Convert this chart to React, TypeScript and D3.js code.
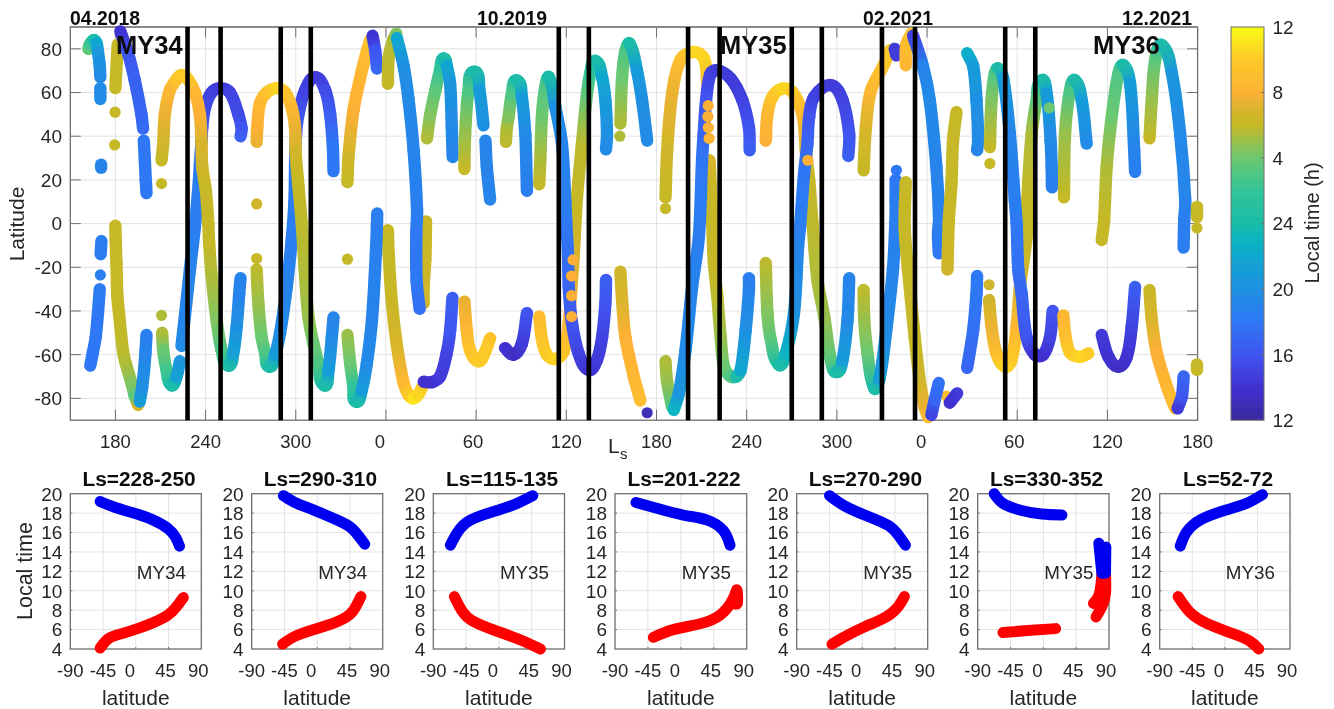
import React from "react";
import * as d3 from "d3";

// ---------- main panel data: [Ls (continuous over three Mars years), latitude, local time h]
const northBlue1 = [[162,80,3.5],[163,82,2.5],[165.5,84,0],[167.5,82.5,22],[168.5,78,20.5],[169.5,73,20],[170,67,19.5]];
const northBlue1b = [[170,62,19.5],[170,57,19.5]];
const dotBlue1 = [[170.5,27,19],[170.5,25.5,19]];
const southBlue1 = [[170.7,-8,18.5],[170.2,-14,18.5]];
const dotBlue2 = [[170,-23.5,18.5]];
const southBlue1b = [[169.6,-30,18.5],[168.4,-41,18],[166.9,-52,18],[165,-59,18],[163.3,-65,18]];
const oliveA = [[181.5,82,6],[181,75,6],[180.3,66,6],[180,62,6]];
const dotOliveA = [[179.8,51,6]];
const dotOliveB = [[179.5,36,6]];
const oliveB = [[180,-1,6],[180.2,-7.5,6],[180.7,-18,6],[181.3,-33,6],[182.4,-41,6],[185.1,-58.6,5.8],[186.9,-64,5.5],[190.7,-73,4.5],[192.9,-79,3.5],[195.1,-83,7]];
const blueA = [[196.2,-81.5,21],[197.8,-75,20],[199.1,-67,19.5],[200,-59,19],[200.7,-51,18.5]];
const indigoA = [[183.3,88,14],[188.4,78,16],[192.9,65.6,16.7],[197.3,50,17],[198.4,43.5,17.3]];
const indigoAb = [[198.9,38,18],[199.6,29,18],[200.2,20,18],[200.7,14,18]];
const arcOrange1 = [[210.7,29,6],[211.8,36.6,6.5],[212.9,50,7.5],[216.2,61,8.5],[220.7,66,9.5],[224,68,10],[228.4,66,10],[232.9,60,8.5],[236.2,50,8],[237.3,36.6,7],[237.8,26,6.5],[240.2,15,6],[241.8,0,6],[242.4,-9,6],[244,-24,5.5],[247.3,-44,4.5],[250.7,-58,3],[255.1,-65,0],[258.4,-59.4,21.5],[260.7,-47,20],[262.4,-32,19],[263.3,-25,19]];
const dotOrange1 = [[210.7,18.3,6]];
const dotGreen1 = [[210.7,-42,5.5]];
const arcGreen1 = [[211.1,-50,5.5],[211.8,-58,4],[214,-67,2.5],[217.3,-74,0],[220.7,-70,21.5],[222.9,-63,20.5]];
const arcBlue1 = [[224,-56,19.5],[226.2,-42.6,19],[229.6,-21,19],[232.9,-1.4,18.5],[235.6,20,18.5],[236.2,27,18],[237.3,38,17],[237.8,44,16.5],[239.6,53,15.5],[244,60,15],[249.6,62,14.5],[256.2,60,15],[261.8,50,15.5],[264,43.5,16],[263.3,40,16.5]];
const dotOrange2 = [[274,9,6.5]];
const arcOrange2 = [[274,37.4,7.5],[274.4,44,8],[276.2,55,8.5],[280.7,60,9.5],[287.3,62,10.5],[292.9,60,9.5],[297.3,53,8.5],[299.5,44,7.5],[300,32,6.5],[301.8,17,6],[304,0,5.8],[306.2,-24,5.5],[308.4,-42.6,5],[311.8,-55,4],[315.1,-64,3],[318.9,-74,0],[321.8,-67,21],[324,-52,19.5],[325.1,-43,19]];
const dotOlive2 = [[274,-16,6]];
const arcGreen2 = [[274,-21,5.8],[275.1,-36.5,5],[277.3,-52,4],[279.6,-59,3],[282.4,-65.5,0],[286.2,-60,21],[289.6,-50,19.5],[294,-29,19],[297.3,-7.5,18.5],[299.1,10,18.5],[299.6,29,18],[300.2,41,17],[301.8,50,16],[306.2,61,15],[312.9,67,14.5],[319.6,61,15.5],[322.9,50,16.5],[324.7,35,18],[325.1,24,18]];
const dotOlive3 = [[334.4,-16.3,6]];
const arcGreen3 = [[334.4,-51,5],[336.2,-64,4],[338.4,-74.7,2],[340.2,-81.5,0],[344,-76,21],[347.3,-64,19.5],[350.7,-44,19],[353.3,-13.6,18.7],[354,-0.6,18.5],[354.2,4.6,18.5]];
const arcOrange3 = [[334.4,19,6],[335.1,30.5,6.5],[338.4,52,8],[344,70,8.5],[347.3,79,9],[349.5,84,9.5]];
const indigoB = [[351.1,86,14],[352.9,79,16],[354,71,17]];
const oliveC = [[361.3,64,6],[361.8,76,5.8],[364.7,84,5.5],[366.9,87,4.5]];
const bigBlue1 = [[367.3,85,22],[371.8,72,20],[375.1,56.5,19.5],[378.4,33.6,19],[380.7,6,18.5],[380.2,-4.4,18],[380.4,-26,18],[382.4,-39,17.5]];
const oliveD = [[361.3,-3,6],[361.8,-13.6,6],[364,-36.5,6.2],[367.3,-56,7],[371.8,-73,8.5],[375.1,-78.5,10],[378.4,-80,11],[381.8,-78,10.5],[384,-75,10]];
const oliveE = [[386.7,1,6.2],[386.2,-16.6,6.3],[385.1,-29,6.5],[385.1,-36.5,6.5]];
const indigoC = [[385.1,-72.4,14],[391,-72.5,14],[396,-70,14.5],[400.4,-59.4,15],[402.7,-49,16],[404.2,-34,16.5]];
const orangeF = [[412.2,-35.7,7.5],[413.8,-49,8.5],[416,-58,9.5],[421.6,-63,10],[426,-58.6,10],[429.3,-52.5,9.5]];
const indigoD = [[439.3,-57,14],[444.9,-60,13.5],[450.4,-55,14.5],[453.8,-41,16]];
const arcGreen4 = [[387.3,39,5.5],[389.5,50,4.5],[392.9,61,3.5],[396.2,71,2],[398.3,75.6,0],[400.5,72,22],[402.7,64,20.5],[403.8,44,19.5],[404.4,30.5,19]];
const arcGreen5 = [[412.2,25,6],[412.7,41,5],[414.9,61,3],[418.7,69.5,0],[422.2,61,21],[424.9,45,20]];
const blueE = [[426.2,38,19],[427.1,26,19],[429.3,11,19]];
const arcGreen6 = [[439.8,37.4,5.8],[440.4,43.5,5.5],[441.6,49,4.5],[443.8,59.5,3],[447.1,65.6,0],[450.4,58,21],[452.7,41,19.5],[453.3,29,19],[453.8,15,18.5]];
const bigBlue2 = [[462,18,6],[462.7,29,5.5],[463.8,49.5,4],[466,62.6,3],[468.5,67,0],[472.7,53.4,20],[477.1,36.6,19],[479.3,10.7,18.5],[480,0,18],[481.1,-13.6,17.5],[481.6,-29,17],[483.8,-45.6,16],[488.2,-59.4,15],[494.9,-67,14],[500.4,-62.4,14.5],[503.8,-52,15],[506,-36.5,16],[506.4,-25.8,16.5]];
const bigOrange1 = [[462,-42.6,9],[463.8,-53,9.5],[467.1,-60,10],[472.7,-62,10.5],[478.2,-58.6,9.5],[481.6,-45.6,8.5],[483.3,-30,7.5],[484.9,-15,7],[485.6,-6,6.5],[487.1,12,6],[490.4,36.6,5.8],[493.8,59.5,3.5],[496,69,2],[499.3,74.5,0],[503.8,67,22],[506,56.5,21],[507.1,41,20],[506.4,34,19.5]];
const dotsMid1 = [[484.5,-16.6,8]];
const dotsMid2 = [[483.5,-24,8]];
const dotsMid3 = [[483.5,-33,8]];
const dotsMid4 = [[483.5,-42.6,8]];
const dotOlive4 = [[515.6,40,5.5]];
const arcGreen7 = [[516,45.8,5.5],[517.1,67,4],[519.3,79,3],[522.2,82.4,0],[527,70,21],[530.4,56.5,20],[533.8,38,19.5]];
const orangeG = [[516,-22,6.5],[517.1,-35,7],[519.3,-52,8],[524.9,-70,8.5],[529.3,-81,9]];
const dotIndigo1 = [[533.8,-86.6,13]];
const greenH = [[546,-63,5.5],[547,-72,5],[550.4,-84,3]];
const arcBlue2 = [[551.5,-85.3,23],[554.9,-77.7,20.5],[559.3,-58,19.5],[563.7,-29,19],[568.2,-6,18.5],[570.3,29,18],[571.4,41,17],[573,56.5,16],[576,68.7,15],[580.4,70.2,14.5],[589.3,66.4,14.5],[597.1,56.5,15],[601.5,44,16],[602,33.6,16.5]];
const arcOrange4 = [[546,12,6],[547.1,33.6,6.5],[550.4,59.5,7.5],[556,75,9],[564.9,78.6,10.5],[571.6,75.6,10.5],[573.8,64,8.5]];
const arcOrange4b = [[575.3,29,7],[576.4,13.7,6],[577.1,0,6],[578.2,-18,6],[580.4,-33,5.8],[582.7,-52,5],[584.9,-65.5,4],[589.3,-70,3],[593.1,-70,0],[596,-67,22],[599.3,-49,20],[601.5,-30.4,19],[601.5,-25,18.5]];
const dotOrange4 = [[546,6.9,6]];
const dotsTop1 = [[574.4,54,8]];
const dotsTop2 = [[574.2,49,8]];
const dotsTop3 = [[574.5,44,8.2]];
const dotsTop4 = [[575,39,8.2]];
const arcGreen8 = [[612.7,-18,5.8],[613.8,-41,4.5],[616,-53,3.5],[621.6,-64.7,0],[626,-59.4,23],[631.5,-41,20],[634.2,-10.5,19],[635.5,-1.5,18.5],[638.2,23,18],[640.4,36.6,17],[641.6,49,16],[644.9,58,15],[656,63.4,14.5],[663.8,56.5,15],[668.2,41,16],[667.6,31,16.5]];
const arcOrange5 = [[612.7,38,8],[613.8,50,8.5],[617.1,58,9.5],[623.8,61.8,10.5],[630.4,60.3,10],[637.1,50,8.5],[639.3,33.6,7],[641.6,20,6],[643.8,0,5.8],[647.1,-26,5.5],[651.6,-42.6,5],[656,-62.4,3.5],[659.8,-68,0],[663.8,-62.4,21],[667.1,-44,19.5],[668.2,-25,19]];
const dotOrange5 = [[640.7,29,8]];
const arcGreen9 = [[677.8,-30.4,5.8],[678.2,-44,5],[680.4,-59.4,4],[684.9,-75.4,0],[688.4,-71,21],[692.9,-48.7,19.5],[697.3,-21,19],[698.9,0,18.5],[699.1,10.7,18.5],[699.1,20,18]];
const dotBlue9 = [[699.6,24.4,18]];
const arcOrange6 = [[677.8,24.4,6],[679.3,44,7],[682.7,61,8.5],[691.5,73,9.5],[695.1,79.4,10]];
const dotIndigo9 = [[698.5,80,14.5],[699.6,77,14.5]];
const orangeJ = [[705.8,72.5,8.5],[706.2,82,9],[709.6,87,9.5]];
const bigBlue3 = [[710.7,86,15],[717.3,72,19],[721.8,56.5,19.5],[726.2,26,19],[728,2.4,18.7],[727.3,-4.4,18.5],[727.8,-13.6,18]];
const oliveK = [[705.8,19,6],[705.1,-1.5,6],[707.3,-21,6],[711.8,-52,6],[715.1,-71.6,6.5],[718.4,-84,7.5],[720.7,-88.6,9]];
const indigoK = [[722.9,-87.6,15],[725.1,-80.7,17],[727.8,-73,17.5]];
const dotOrangeK = [[732.9,-79,9]];
const indigoL = [[735.1,-82,14],[740,-77.7,14.5]];
const oliveL = [[739.6,51,6],[737.3,38,6],[736.2,18,6],[734.4,0,6.2],[733.6,-21,6.5]];
const blueM = [[746.7,78,22.5],[750.7,72,21],[752.9,56.5,20],[754,38,19.5],[753.3,33.6,19]];
const blueN = [[746.7,-66,17],[750.7,-48.7,17.5],[752.9,-32,18],[753.3,-24,18]];
const dotOlive6 = [[761.8,27.5,6]];
const arcGreen10 = [[761.8,35,6],[762.9,56.5,4.5],[765.1,68.7,3],[767.3,71,0],[770.7,66.4,21],[775.1,41,19],[778.4,10.7,18.5],[779.6,0,18],[780.7,-21,17.5],[782.9,-32,17],[786.2,-52,16],[791.8,-60,14],[797.3,-60,14],[801.8,-52,15],[803.6,-40,16]];
const dotOlive7 = [[761.3,-28,6.5]];
const arcOrange7 = [[761.3,-35,6.5],[762.9,-47,7.5],[766.2,-59.4,9],[771.8,-65.5,10.5],[776.2,-62.4,10],[779.6,-47,8.5],[781.8,-29,7],[786.2,-6,6],[786.7,10.7,6],[789.6,41,5.5],[792.9,56.5,3.5],[796.2,65.6,0],[799.6,59.5,21],[802.2,38,19.5],[802.9,26,19],[803.1,16.6,18.5]];
const dotGreen8 = [[801.3,53,4]];
const orangeP = [[810.7,-42,8.5],[811.8,-50,9],[815.1,-59,10],[821.8,-61,10.5],[827.3,-59.4,10]];
const arcGreen11 = [[811.1,12,6],[811.8,41,5],[815.1,61,3],[818.4,65.6,0],[822.9,56.5,21],[826.2,36.6,19.5]];
const indigoQ = [[836.2,-51,14.5],[840.7,-61,14],[847.3,-65.5,13.5],[852.9,-61,14],[856.2,-47,15],[858.4,-29,16.5]];
const arcGreen12 = [[836.2,-7.5,6],[837.8,1.7,6],[839.5,26,5.5],[842.9,49,4],[847.3,68.7,3],[850.7,72.5,0],[855.1,64,21],[857.8,33.6,19],[858.4,23.7,18.5]];
const arcGreen13 = [[868,39,6],[869.5,56.5,5],[871.8,75,3.5],[876.2,81.7,0],[882.9,68.7,20.5],[888.4,41,19.5],[891.8,10.7,19],[891.1,1.7,18.5],[890.7,-11,18.5]];
const orangeR = [[868,-30.4,6.2],[869.5,-44,7],[872.9,-59.4,8],[879.6,-74.7,8.5],[885.1,-84.6,9]];
const blueR = [[886.7,-84.6,14.5],[889.6,-79,16],[890.7,-70,17]];
const oliveEnd1 = [[899.6,7.6,6],[899.6,3,6]];
const oliveEnd2 = [[899.6,-2,6]];
const oliveEnd3 = [[899.6,-64.5,6],[899.6,-67,6]];

const traces = [
  northBlue1, northBlue1b, dotBlue1, southBlue1, dotBlue2, southBlue1b, oliveA, dotOliveA, dotOliveB, oliveB, blueA, indigoA, indigoAb,
  arcBlue1, arcOrange1, dotOrange1, dotGreen1, arcGreen1, arcGreen2, arcOrange2, dotOrange2, dotOlive2,
  arcOrange3, indigoB, oliveC, oliveD, oliveE, bigBlue1, arcGreen3, dotOlive3, indigoC, orangeF, indigoD, arcGreen4, arcGreen5, blueE, arcGreen6,
  bigOrange1, bigBlue2, dotsMid1, dotsMid2, dotsMid3, dotsMid4, dotOlive4, arcGreen7, orangeG, dotIndigo1, greenH, arcOrange4, arcOrange4b, arcBlue2, dotOrange4, dotsTop1, dotsTop2, dotsTop3, dotsTop4,
  arcOrange5, arcGreen8, dotOrange5, arcGreen9, dotBlue9, arcOrange6, dotIndigo9, orangeJ, oliveK, bigBlue3, dotOrangeK, indigoK, indigoL, oliveL, blueM, blueN,
  dotOlive6, arcOrange7, arcGreen10, dotOlive7, dotGreen8, orangeP, arcGreen11, indigoQ, arcGreen12, orangeR, arcGreen13, blueR, oliveEnd1, oliveEnd2, oliveEnd3,
];

const lsTicks = [180, 240, 300, 360, 420, 480, 540, 600, 660, 720, 780, 840, 900];
const lsTickLabels = ["180", "240", "300", "0", "60", "120", "180", "240", "300", "0", "60", "120", "180"];
const latTicks = [80, 60, 40, 20, 0, -20, -40, -60, -80];
const windowLs = [228, 250, 290, 310, 475, 495, 561, 582, 630, 650, 690, 712, 772, 792];
const colorTickValues = [12, 16, 20, 24, 28, 32, 36];
const colorTickLabels = ["12", "16", "20", "24", "4", "8", "12"];
const dateLabels = ["04.2018", "10.2019", "02.2021", "12.2021"];
const yearLabels = ["MY34", "MY35", "MY36"];

// parula-like colour stops sampled from the colour bar
const colorStopsT = [0, 0.08, 0.167, 0.25, 0.333, 0.42, 0.46, 0.5, 0.58, 0.667, 0.75, 0.79, 0.833, 0.92, 1];
const colorStopsC = ["#3a2a9e", "#4030d0", "#3f55f0", "#2e78f5", "#1f90e2", "#0fa8cf", "#08b5c0", "#1cbca8", "#30c49a", "#6cc870", "#c6b826", "#d8b52c", "#fdb035", "#fccb28", "#f9fb14"];

// ---------- small panels: latitude vs local time
const panelTitles = ["Ls=228-250", "Ls=290-310", "Ls=115-135", "Ls=201-222", "Ls=270-290", "Ls=330-352", "Ls=52-72"];
const panelYears = ["MY34", "MY34", "MY35", "MY35", "MY35", "MY35", "MY36"];
const latTicksSmall = [-90, -45, 0, 45, 90];
const ltTicksSmall = [4, 6, 8, 10, 12, 14, 16, 18, 20];

const p1Blue = [[[-49,19.2],[-29,18.6],[-2.9,18],[23.3,17.3],[44.3,16.4],[54.8,15.5],[60,14.6]]];
const p1Red = [[[-49,4.1],[-37,5.1],[-18.6,5.6],[2.4,6.1],[23.3,6.7],[44.3,7.5],[57.4,8.5],[65.3,9.3]]];
const p2Blue = [[[-46.4,19.8],[-30.7,19.1],[-4.5,18.3],[27,17.3],[48,16.4],[65.3,14.8]]];
const p2Red = [[[-47.5,4.5],[-30.7,5.3],[-4.5,6],[27,6.8],[48,7.8],[60,9.4]]];
const p3Blue = [[[-66.6,14.7],[-57,16],[-38.5,17.3],[-1.3,18.3],[25,19],[46.5,19.8]]];
const p3Red = [[[-61,9.4],[-54.4,8.4],[-38.5,7],[-1.3,5.8],[30.5,4.9],[57,4]]];
const p4Blue = [[[-61.3,19.1],[-33,18.5],[3.4,17.8],[35.3,17.3],[58,16.2],[67.2,14.7]]];
const p4Red = [[[-37.6,5.2],[-10.3,6],[26.2,6.6],[53.6,7.5],[69.5,8.9],[76.3,10.1]], [[69.5,8.9],[77.2,8.7],[77,10]]];
const p5Blue = [[[-44.9,19.8],[-25.5,18.8],[3.6,17.8],[36.4,16.7],[52,15.5],[59.4,14.7]]];
const p5Red = [[[-41.5,4.5],[-20.6,5.4],[3.6,6.3],[32.8,7.3],[49.7,8.4],[58,9.4]]];
const p6Blue = [[[-67.4,20],[-55.3,19],[-31.3,18.3],[-2.4,17.9],[25.5,17.8]], [[76,14.9],[78.4,13.1],[80.3,11.8]], [[85.7,14.5],[85.2,11.8]]];
const p6Red = [[[-55.3,5.7],[-21.7,5.9],[16.8,6.1]], [[85.2,11.8],[85.2,9.7],[80.3,8.4],[72.2,7.3]], [[80.3,11.8],[76.9,9.7],[68.7,8.7]]];
const p7Blue = [[[-61.6,14.6],[-53.3,16],[-33.8,17.3],[0.5,18.3],[29.8,19],[51.9,19.9]]];
const p7Red = [[[-64.6,9.4],[-48.4,7.8],[-24,6.6],[10.3,5.6],[34.7,4.8],[46.9,4]]];
const panelBlue = [p1Blue, p2Blue, p3Blue, p4Blue, p5Blue, p6Blue, p7Blue];
const panelRed = [p1Red, p2Red, p3Red, p4Red, p5Red, p6Red, p7Red];

// ---------- layout
const plot = { left: 70.3, right: 1197.6, top: 27, bottom: 420.2 };
const bar = { left: 1231, right: 1264, top: 27, bottom: 420.2 };
const panelX = [[70.3, 201.3], [251.7, 382.7], [433.3, 564.5], [615, 746.7], [796.7, 927.7], [977.7, 1109], [1159.7, 1290]];
const panelTop = 493.7;
const panelBottom = 649;
const FONT = "'Liberation Sans', Arial, sans-serif";
const INK = "#262626";
const GRID = "#e3e3e3";
const AXIS = "#6e6e6e";

const x = d3.scaleLinear().domain([150, 900]).range([plot.left, plot.right]);
const y = d3.scaleLinear().domain([-90, 90]).range([plot.bottom, plot.top]);
const colorPos = d3.scaleLinear<string>().domain(colorStopsT).range(colorStopsC).interpolate(d3.interpolateRgb);
const ltValue = (h: number) => (h < 12 ? h + 24 : h);
const colorOf = (h: number) => colorPos((ltValue(h) - 12) / 24);
const barY = d3.scaleLinear().domain([12, 36]).range([bar.bottom, bar.top]);

// smooth cubic segment between pts[i] and pts[i+1]
function segmentPath(pts: number[][], i: number) {
  const p0 = pts[Math.max(i - 1, 0)], p1 = pts[i], p2 = pts[i + 1], p3 = pts[Math.min(i + 2, pts.length - 1)];
  const d = Math.hypot(p2[0] - p1[0], p2[1] - p1[1]);
  const tan = (a: number[], b: number[], s: number) => {
    const l = Math.hypot(b[0] - a[0], b[1] - a[1]) || 1;
    return [((b[0] - a[0]) / l) * s, ((b[1] - a[1]) / l) * s];
  };
  const t1 = tan(p0, p2, d / 3), t2 = tan(p1, p3, d / 3);
  return `M${p1[0]},${p1[1]}C${p1[0] + t1[0]},${p1[1] + t1[1]} ${p2[0] - t2[0]},${p2[1] - t2[1]} ${p2[0]},${p2[1]}`;
}

function Trace({ data, id }: { data: number[][]; id: string }) {
  const pts = data.map((d) => [x(d[0]), y(d[1])]);
  if (pts.length === 1) return <circle cx={pts[0][0]} cy={pts[0][1]} r={5.6} fill={colorOf(data[0][2])} />;
  return (
    <g fill="none" strokeWidth={12.4} strokeLinecap="round">
      {pts.slice(0, -1).map((_, i) => {
        const gid = `${id}-${i}`;
        return (
          <g key={i}>
            <linearGradient id={gid} gradientUnits="userSpaceOnUse" x1={pts[i][0]} y1={pts[i][1]} x2={pts[i + 1][0]} y2={pts[i + 1][1] + 0.01}>
              <stop offset="0" stopColor={colorOf(data[i][2])} />
              <stop offset="1" stopColor={colorOf(data[i + 1][2])} />
            </linearGradient>
            <path d={segmentPath(pts, i)} stroke={`url(#${gid})`} />
          </g>
        );
      })}
    </g>
  );
}

function SmallPanel({ index }: { index: number }) {
  const [l, r] = panelX[index];
  const px = d3.scaleLinear().domain([-90, 90]).range([l, r]);
  const py = d3.scaleLinear().domain([4, 20]).range([panelBottom, panelTop]);
  const line = d3.line<number[]>().x((d) => px(d[0])).y((d) => py(d[1])).curve(d3.curveNatural);
  const labelShift = [0, 0, -6, -3, -3];
  return (
    <g fontFamily={FONT} fill={INK}>
      {latTicksSmall.slice(1, -1).map((t) => <line key={t} x1={px(t)} x2={px(t)} y1={panelTop} y2={panelBottom} stroke={GRID} />)}
      {ltTicksSmall.slice(1, -1).map((t) => <line key={t} x1={l} x2={r} y1={py(t)} y2={py(t)} stroke={GRID} />)}
      <rect x={l} y={panelTop} width={r - l} height={panelBottom - panelTop} fill="none" stroke={AXIS} strokeWidth={1.3} />
      {latTicksSmall.slice(1, -1).map((t) => <line key={t} x1={px(t)} x2={px(t)} y1={panelBottom} y2={panelBottom - 2} stroke={AXIS} />)}
      {ltTicksSmall.slice(1, -1).map((t) => <line key={t} x1={l} x2={l + 2} y1={py(t)} y2={py(t)} stroke={AXIS} />)}
      <g fill="none" strokeLinecap="round" strokeLinejoin="round" strokeWidth={11}>
        {panelRed[index].map((d, i) => <path key={i} d={line(d) || ""} stroke="#ff0000" />)}
        {panelBlue[index].map((d, i) => <path key={i} d={line(d) || ""} stroke="#0000f0" />)}
      </g>
      {ltTicksSmall.map((t) => (
        <text key={t} x={l - 8} y={py(t)} dy="0.36em" textAnchor="end" fontSize={19}>{t}</text>
      ))}
      {latTicksSmall.map((t, i) => (
        <text key={t} x={px(t) + labelShift[i]} y={676.7} textAnchor="middle" fontSize={18.5}>{t}</text>
      ))}
      <text x={(l + r) / 2} y={705} textAnchor="middle" fontSize={21}>latitude</text>
      <text x={px(0) + 1} y={579} fontSize={18.8}>{panelYears[index]}</text>
      <text x={(l + r) / 2 + 3.2} y={486} textAnchor="middle" fontSize={20.9} fontWeight="bold" fill="#111">{panelTitles[index]}</text>
    </g>
  );
}

export default function App() {
  const dateX = [70, 477, 863, 1122];
  const yearX = [116, 720, 1093];
  return (
    <svg width={1334} height={709} viewBox="0 0 1334 709" style={{ position: "absolute", left: 0, top: 0, background: "#fff" }}>
      <defs>
        <linearGradient id="cbar" x1="0" y1="1" x2="0" y2="0">
          {colorStopsT.map((t, i) => <stop key={t} offset={t} stopColor={colorStopsC[i]} />)}
        </linearGradient>
        <filter id="soft" x="0" y="0" width="100%" height="100%" filterUnits="objectBoundingBox">
          <feGaussianBlur stdDeviation="0.5" />
        </filter>
      </defs>
      <g filter="url(#soft)">
        <rect x={0} y={0} width={1334} height={709} fill="#fff" />
        <g fontFamily={FONT} fill={INK}>
          {lsTicks.map((t) => <line key={t} x1={x(t)} x2={x(t)} y1={plot.top} y2={plot.bottom} stroke={GRID} />)}
          {latTicks.map((t) => <line key={t} x1={plot.left} x2={plot.right} y1={y(t)} y2={y(t)} stroke={GRID} />)}
          {lsTicks.map((t) => (
            <g key={t} stroke={AXIS}>
              <line x1={x(t)} x2={x(t)} y1={plot.top} y2={plot.top + 10.5} />
              <line x1={x(t)} x2={x(t)} y1={plot.bottom} y2={plot.bottom - 10.5} />
            </g>
          ))}
          {latTicks.map((t) => (
            <g key={t} stroke={AXIS}>
              <line x1={plot.left} x2={plot.left + 10.5} y1={y(t)} y2={y(t)} />
              <line x1={plot.right} x2={plot.right - 10.5} y1={y(t)} y2={y(t)} />
            </g>
          ))}
          <rect x={plot.left} y={plot.top} width={plot.right - plot.left} height={plot.bottom - plot.top} fill="none" stroke={AXIS} strokeWidth={1.3} />
          <line x1={plot.left} x2={plot.right} y1={plot.top} y2={plot.top} stroke="#8a8a8a" strokeWidth={1.8} />

          {traces.map((t, i) => <Trace key={i} data={t} id={`t${i}`} />)}

          {windowLs.map((v) => <line key={v} x1={x(v)} x2={x(v)} y1={plot.top} y2={plot.bottom} stroke="#000" strokeWidth={4.6} />)}

          {lsTicks.map((t, i) => (
            <text key={t} x={x(t) - (lsTickLabels[i] === "0" ? 6 : lsTickLabels[i].length === 2 ? 3 : 0)} y={448} textAnchor="middle" fontSize={18.5}>{lsTickLabels[i]}</text>
          ))}
          {latTicks.map((t) => (
            <text key={t} x={62} y={y(t)} dy="0.36em" textAnchor="end" fontSize={19}>{t}</text>
          ))}
          <text transform="translate(24,224) rotate(-90)" textAnchor="middle" fontSize={21}>Latitude</text>
          <text x={608} y={453} fontSize={21}>L</text>
          <text x={620} y={459} fontSize={15}>s</text>

          {dateLabels.map((d, i) => <text key={d} x={dateX[i]} y={25} fontSize={19.4} fontWeight="bold" fill="#111">{d}</text>)}
          {yearLabels.map((d, i) => <text key={d} x={yearX[i]} y={54} fontSize={25.5} fontWeight="bold" fill="#111">{d}</text>)}

          <rect x={bar.left} y={bar.top} width={bar.right - bar.left} height={bar.bottom - bar.top} fill="url(#cbar)" stroke={AXIS} strokeWidth={1} />
          {colorTickValues.map((t, i) => (
            <g key={t}>
              {i > 0 && i < colorTickValues.length - 1 && <line x1={bar.right} x2={bar.right - 3} y1={barY(t)} y2={barY(t)} stroke={AXIS} />}
              <text x={1272.5} y={barY(t)} dy="0.36em" fontSize={19}>{colorTickLabels[i]}</text>
            </g>
          ))}
          <text transform="translate(1319,223) rotate(-90)" textAnchor="middle" fontSize={20}>Local time (h)</text>
          <text transform="translate(32,571) rotate(-90)" textAnchor="middle" fontSize={21.5}>Local time</text>
        </g>
        {panelTitles.map((_, i) => <SmallPanel key={i} index={i} />)}
      </g>
    </svg>
  );
}
